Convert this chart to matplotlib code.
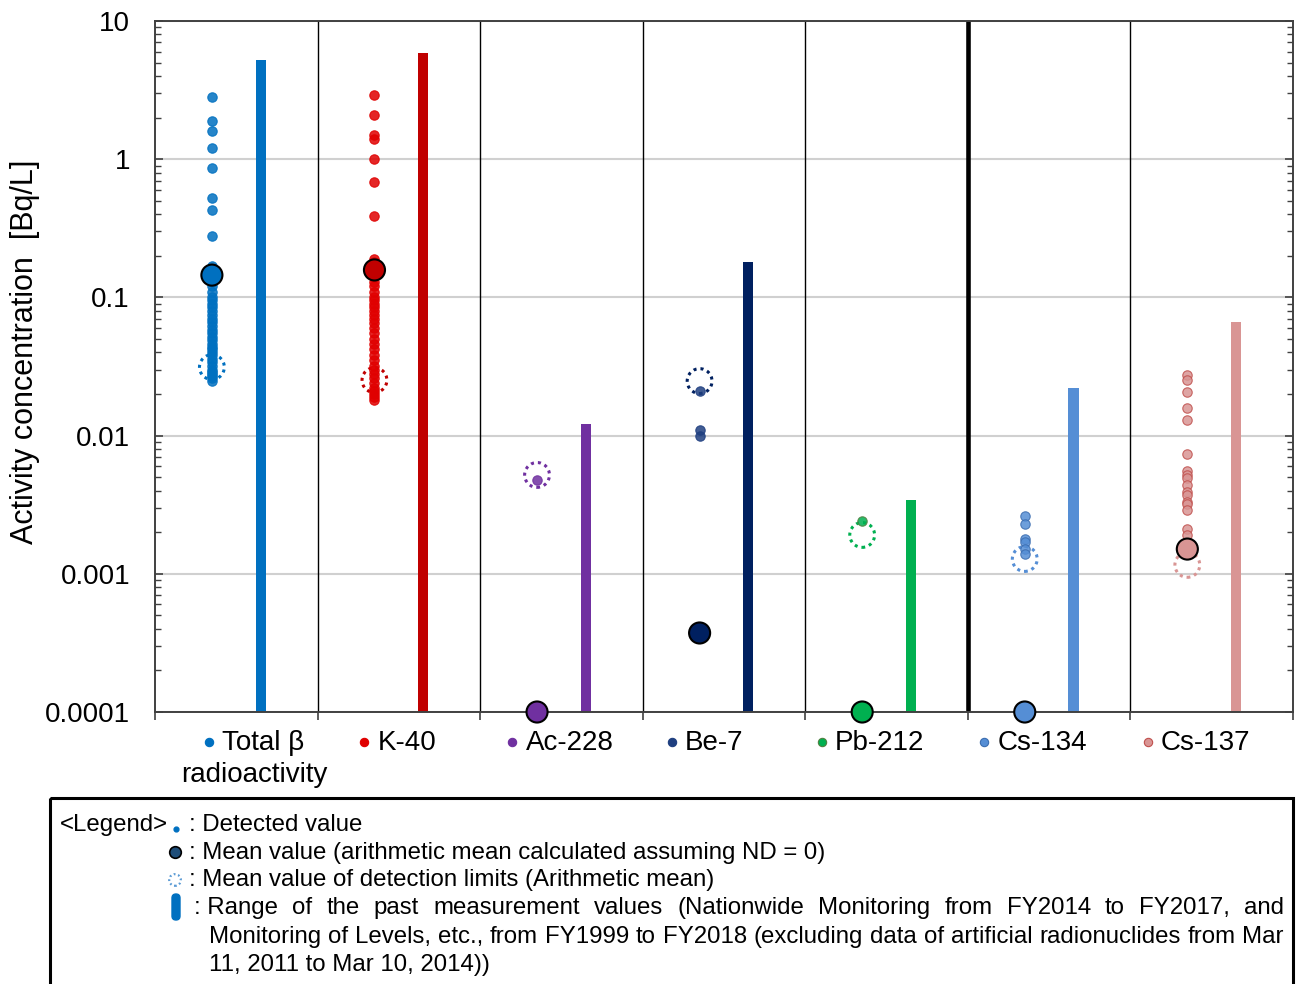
import matplotlib.pyplot as plt
import numpy as np
from matplotlib.patches import Rectangle, FancyBboxPatch
from matplotlib.ticker import LogLocator, NullFormatter

plt.rcParams['font.family'] = ['Liberation Sans', 'DejaVu Sans']

W, H = 1298, 984
YMIN, YMAX = 1e-4, 10

categories = ['Total β\nradioactivity', 'K-40', 'Ac-228', 'Be-7', 'Pb-212', 'Cs-134', 'Cs-137']
main_colors = ['#0070C0', '#C00000', '#7030A0', '#002060', '#00B050', '#558ED5', '#D99594']
dot_colors = ['#0070C0', '#E00000', '#7030A0', '#1F3F80', '#00B050', '#558ED5', '#D99594']
dot_edges = ['#0070C0', '#E00000', '#7030A0', '#1F3F80', '#4F8040', '#3B6DB0', '#C0504D']

# detected values [Bq/L]
detected = [
    [2.8, 1.9, 1.6, 1.2, 0.87, 0.52, 0.43, 0.28, 0.17, 0.16, 0.15, 0.14, 0.13, 0.12,
     0.11, 0.10, 0.095, 0.09, 0.085, 0.08, 0.075, 0.07, 0.066, 0.062, 0.058, 0.055,
     0.052, 0.049, 0.046, 0.044, 0.042, 0.04, 0.038, 0.036, 0.034, 0.032, 0.030,
     0.029, 0.028, 0.027, 0.026, 0.025],
    [2.9, 2.1, 1.5, 1.4, 1.0, 0.68, 0.39, 0.19, 0.18, 0.17, 0.16, 0.15, 0.14, 0.13,
     0.12, 0.11, 0.10, 0.095, 0.09, 0.085, 0.08, 0.075, 0.07, 0.065, 0.06, 0.055,
     0.05, 0.046, 0.042, 0.038, 0.035, 0.032, 0.03, 0.028, 0.026, 0.024, 0.022,
     0.021, 0.02, 0.019, 0.018],
    [0.0048],
    [0.021, 0.011, 0.0099],
    [0.0024],
    [0.0026, 0.0023, 0.0018, 0.0017, 0.0015, 0.0014],
    [0.0275, 0.0252, 0.0208, 0.0159, 0.013, 0.0073, 0.0055, 0.0052, 0.0049, 0.0044,
     0.0039, 0.0037, 0.0033, 0.0032, 0.0029, 0.0021, 0.0019],
]
mean_value = [0.145, 0.158, 0, 0.000373, 0, 0, 0.00151]   # ND = 0 -> drawn on the floor
detect_limit_mean = [0.0313, 0.0252, 0.00519, 0.0248, 0.00191, 0.00128, 0.00116]
past_max = [5.2, 5.9, 0.0121, 0.18, 0.00342, 0.0221, 0.0664]
thick_after = 4   # heavy separator between natural and artificial nuclides

label_shift = [18, -1, -1, -19, -16, -16, -15]   # px

fig = plt.figure(figsize=(W / 100, H / 100), dpi=100)
ax = fig.add_axes([155 / W, 1 - 712 / H, (1293 - 155) / W, (712 - 21) / H])
ax.set_yscale('log')
ax.set_ylim(YMIN, YMAX)
ax.set_xlim(-0.5, len(categories) - 0.5)

x = np.arange(len(categories))

ax.yaxis.grid(True, which='major', color='#D0D0D0', lw=1.5, zorder=0)
ax.set_axisbelow(True)
for b in np.arange(0.5, len(categories) - 1):
    ax.axvline(b, color='black', lw=3.3 if b == thick_after + 0.5 else 1.0, zorder=1)

ax.bar(x + 0.15, np.array(past_max) - YMIN, bottom=YMIN, width=0.062,
       color=main_colors, zorder=2)

ax.scatter(x - 0.15, detect_limit_mean, s=320, facecolors='none', edgecolors=main_colors,
           linewidths=2.2, linestyles=[(0, (1.0, 1.3))], zorder=3)

for i, vals in enumerate(detected):
    ax.scatter(np.full(len(vals), i - 0.15), vals, s=46, color=dot_colors[i],
               edgecolors=dot_edges[i], linewidths=0.8, alpha=0.85, zorder=4)

ax.scatter(x - 0.15, np.maximum(mean_value, YMIN), s=230, c=main_colors,
           edgecolors='black', linewidths=1.5, zorder=5, clip_on=False)

ax.set_yticks([1e-4, 1e-3, 1e-2, 1e-1, 1, 10])
ax.set_yticklabels(['0.0001', '0.001', '0.01', '0.1', '1', '10'])
ax.yaxis.set_minor_locator(LogLocator(base=10, subs=np.arange(2, 10)))
ax.yaxis.set_minor_formatter(NullFormatter())
ax.tick_params(axis='y', which='both', direction='in', left=True, right=True,
               labelsize=20, pad=18, color='#404040')
ax.tick_params(axis='y', which='major', length=6, width=1.2)
ax.tick_params(axis='y', which='minor', length=4.5, width=1)
ax.set_xticks(np.arange(-0.5, len(categories)))
ax.set_xticklabels([])
ax.tick_params(axis='x', direction='out', length=6, width=1.2, color='#404040')
for sp in ax.spines.values():
    sp.set_color('#404040')
    sp.set_linewidth(1.4)

# overlay in pixel coordinates for labels and legend box
lg = fig.add_axes([0, 0, 1, 1])
lg.set_xlim(0, W)
lg.set_ylim(H, 0)
lg.axis('off')
lg.set_zorder(3)

lg.text(25, 352, 'Activity concentration  [Bq/L]', rotation=90, fontsize=22,
        ha='center', va='center')

fig.canvas.draw()
renderer = fig.canvas.get_renderer()


def text_width(s, size):
    t = lg.text(0, 0, s, fontsize=size)
    w = t.get_window_extent(renderer).width
    t.remove()
    return w


for i, name in enumerate(categories):
    lines = name.split('\n')
    cx = ax.transData.transform((i, YMIN))[0] + label_shift[i]
    w = text_width(lines[0], 20)
    left = cx - (w + 18) / 2 + 18
    lg.text(left, 743, lines[0], fontsize=20, ha='left', va='center')
    lg.scatter([left - 13], [742], s=36, color=dot_colors[i], edgecolors=dot_edges[i],
               linewidths=0.8, clip_on=False)
    for k, extra in enumerate(lines[1:]):
        lg.text(cx, 775 + 32 * k, extra, fontsize=20, ha='center', va='center')


def justify(s, x0, x1, y, size):
    words = s.split(' ')
    if words[0] == ':':
        words = [': ' + words[1]] + words[2:]
    while True:
        widths = [text_width(wd, size) for wd in words]
        gap = (x1 - x0 - sum(widths)) / (len(words) - 1)
        if gap >= 4:
            break
        size -= 0.25
    xx = x0
    for wd, ww in zip(words, widths):
        lg.text(xx, y, wd, fontsize=size, ha='left', va='center')
        xx += ww + gap


FS = 17.3
lg.add_patch(Rectangle((50, 798), 1243, 230, fill=False, ec='black', lw=2.2, clip_on=False))
lg.text(60, 825, '<Legend>', fontsize=FS, va='center')
lg.scatter([176], [829], s=12, color='#0070C0')
lg.text(189, 825, ': Detected value', fontsize=FS, va='center')
lg.scatter([175], [852], s=70, color='#1F4E79', edgecolors='black', linewidths=1.2)
lg.text(189, 853, ': Mean value (arithmetic mean calculated assuming ND = 0)', fontsize=FS, va='center')
lg.scatter([175], [880], s=70, facecolors='none', edgecolors='#5B9BD5', linewidths=1.6,
           linestyles=[(0, (0.8, 1.2))])
lg.text(189, 880, ': Mean value of detection limits (Arithmetic mean)', fontsize=FS, va='center')
lg.add_patch(FancyBboxPatch((172, 894), 8, 26, boxstyle='round,pad=0,rounding_size=4',
                            color='#0070C0'))
justify(': Range of the past measurement values (Nationwide Monitoring from FY2014 to FY2017, and',
        194, 1284, 908, FS)
justify('Monitoring of Levels, etc., from FY1999 to FY2018 (excluding data of artificial radionuclides from Mar',
        209, 1284, 937, FS)
lg.text(209, 965, '11, 2011 to Mar 10, 2014))', fontsize=FS, va='center')

fig.savefig('out.png', dpi=100)
